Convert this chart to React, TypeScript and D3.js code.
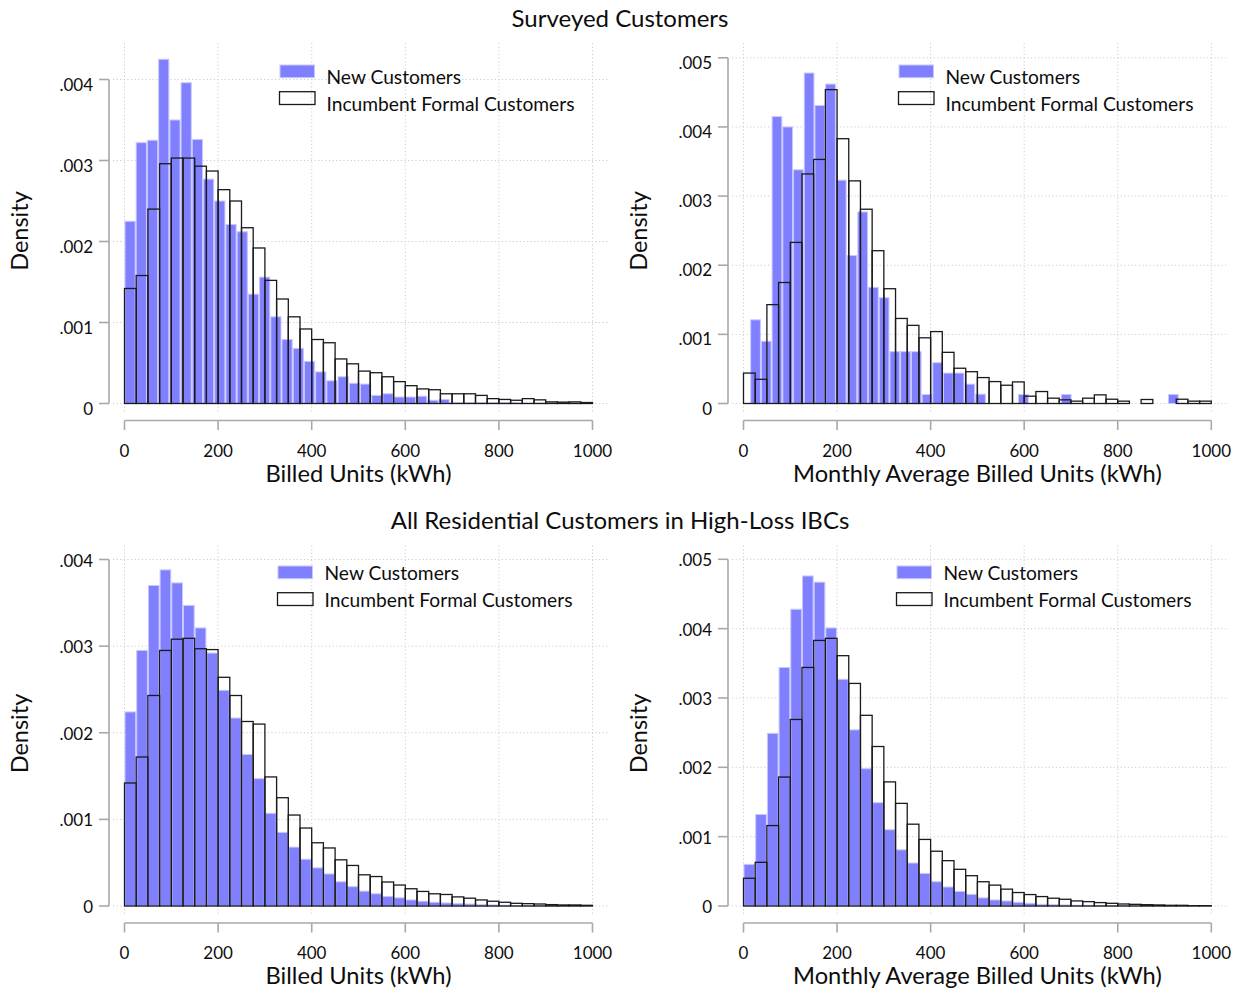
import React from "react";
import * as d3 from "d3";

// Histogram densities, in thousandths (value * 1e-3), one entry per bin
// Surveyed customers, billed units
const surveyedBilledNew = [
  2.25, 3.22, 3.25, 4.25, 3.5, 3.96, 3.26, 2.77, 2.5, 2.21, 2.12, 1.35, 1.56,
  1.07, 0.79, 0.68, 0.52, 0.39, 0.28, 0.33, 0.25, 0.24, 0.1, 0.12, 0.08, 0.08,
  0.09, 0.04, 0.05, 0.01, 0.01, 0.01, 0.01, 0.01, 0.01, 0.005, 0.005, 0.005,
  0.005, 0.005,
];
const surveyedBilledIncumbent = [
  1.42, 1.58, 2.4, 2.96, 3.03, 3.03, 2.93, 2.87, 2.64, 2.5, 2.17, 1.92, 1.52,
  1.29, 1.07, 0.92, 0.79, 0.75, 0.55, 0.49, 0.4, 0.38, 0.33, 0.27, 0.22, 0.18,
  0.17, 0.12, 0.12, 0.12, 0.1, 0.06, 0.05, 0.04, 0.06, 0.045, 0.02, 0.017,
  0.02, 0.012,
];
// Surveyed customers, monthly average billed units
const surveyedMonthlyNew = [
  1.21, 0.9, 4.15, 4.0, 3.38, 4.78, 4.31, 4.62, 3.23, 2.14, 2.77, 1.68, 1.53,
  0.75, 0.75, 0.75, 0.13, 0.59, 0.44, 0.44, 0.28, 0.135, 0, 0, 0, 0.13, 0, 0,
  0, 0.13, 0, 0, 0, 0, 0, 0, 0, 0, 0, 0.13,
];
const surveyedMonthlyIncumbent = [
  0.44, 0.35, 1.43, 1.75, 2.33, 3.32, 3.53, 4.54, 3.83, 3.22, 2.81, 2.21, 1.66,
  1.23, 1.13, 0.95, 1.04, 0.74, 0.51, 0.46, 0.375, 0.317, 0.264, 0.312, 0.106,
  0.173, 0.077, 0.053, 0.034, 0.077, 0.125, 0.062, 0.034, 0, 0.058, 0, 0,
  0.062, 0.034, 0.034,
];
// All residential customers in high-loss IBCs, billed units
const allBilledNew = [
  2.24, 2.95, 3.7, 3.88, 3.73, 3.47, 3.21, 2.92, 2.49, 2.17, 1.75, 1.47, 1.07,
  0.85, 0.68, 0.54, 0.44, 0.37, 0.28, 0.223, 0.172, 0.141, 0.109, 0.094, 0.07,
  0.055, 0.043, 0.035, 0.027, 0.023, 0.016, 0.012, 0.008, 0.006, 0.005, 0.004,
  0.003, 0.003, 0.002, 0.002,
];
const allBilledIncumbent = [
  1.42, 1.72, 2.43, 2.95, 3.08, 3.09, 2.97, 2.96, 2.64, 2.43, 2.13, 2.1, 1.49,
  1.25, 1.05, 0.9, 0.73, 0.67, 0.533, 0.468, 0.36, 0.34, 0.277, 0.242, 0.199,
  0.168, 0.141, 0.133, 0.105, 0.09, 0.07, 0.055, 0.043, 0.031, 0.027, 0.023,
  0.016, 0.012, 0.012, 0.008,
];
// All residential customers in high-loss IBCs, monthly average billed units
const allMonthlyNew = [
  0.6, 1.32, 2.49, 3.44, 4.28, 4.76, 4.67, 4.01, 3.27, 2.54, 1.98, 1.49, 1.1,
  0.81, 0.62, 0.47, 0.35, 0.274, 0.21, 0.168, 0.117, 0.087, 0.073, 0.053,
  0.039, 0.024, 0.019, 0.015, 0.01, 0.008, 0.006, 0.005, 0.004, 0.003, 0.003,
  0.002, 0.002, 0.001, 0.001, 0.001,
];
const allMonthlyIncumbent = [
  0.4, 0.63, 1.16, 1.86, 2.69, 3.44, 3.83, 3.86, 3.61, 3.21, 2.75, 2.3, 1.79,
  1.48, 1.18, 0.96, 0.79, 0.654, 0.529, 0.437, 0.35, 0.301, 0.243, 0.194,
  0.165, 0.136, 0.112, 0.097, 0.073, 0.063, 0.049, 0.039, 0.029, 0.024, 0.019,
  0.015, 0.01, 0.01, 0.005, 0.005,
];

// bin start and width (kWh) of each histogram
const incumbentBins = { start: 0, width: 25 };
const surveyedBilledNewBins = { start: 0, width: 23.96 };
const surveyedMonthlyNewBins = { start: 14.3, width: 22.9 };
const allNewBins = { start: 0, width: 25 };

const xTicks = [0, 200, 400, 600, 800, 1000];
const yTicksLow = [0, 0.001, 0.002, 0.003, 0.004];
const yTicksHigh = [0, 0.001, 0.002, 0.003, 0.004, 0.005];
const seriesLabels = ["New Customers", "Incumbent Formal Customers"];
const rowTitles = [
  "Surveyed Customers",
  "All Residential Customers in High-Loss IBCs",
];
const xTitles = ["Billed Units (kWh)", "Monthly Average Billed Units (kWh)"];
const yTitle = "Density";

const FONT = "Lato, 'Noto Sans', sans-serif";
const BLUE = "#8080ff";
const BLUE_EDGE = "#c8c8ff";
const AXIS = "#a8a8a8";
const GRID = "#cccccc";
const INK = "#0d0d0d";

const fmtY = (v: number) =>
  v === 0 ? "0" : d3.format(".3f")(v).replace(/^0/, "");

interface Bins {
  start: number;
  width: number;
}

interface PanelProps {
  newVals: number[];
  newBins: Bins;
  oldVals: number[];
  oldBins: Bins;
  yTicks: number[];
  xTitle: string;
  left: number;
  right: number;
  base: number;
  top: number;
  regionTop: number;
  axisX: number;
  yLabelDy: number;
  yTitleX: number;
  yTitleY: number;
  legendX: number;
  legendY: number;
  legendTextDy: number;
}

const Panel: React.FC<PanelProps> = (p) => {
  const x = d3.scaleLinear().domain([0, 1000]).range([p.left, p.right]);
  const y = d3
    .scaleLinear()
    .domain([0, p.yTicks[p.yTicks.length - 1]])
    .range([p.base, p.top]);

  const gx0 = p.left - 11.5;
  const gx1 = p.right + 15;
  const gy1 = p.base + 9.5;
  const xAxisY = p.base + 17;

  return (
    <g>
      {/* grid */}
      <g stroke={GRID} strokeWidth={1} strokeDasharray="1.2 2.4">
        {p.yTicks.map((t) => (
          <line key={"h" + t} x1={gx0} x2={gx1} y1={y(t)} y2={y(t)} />
        ))}
        {xTicks.map((t) => (
          <line key={"v" + t} x1={x(t)} x2={x(t)} y1={p.regionTop} y2={gy1} />
        ))}
      </g>

      {/* new customers */}
      <g fill={BLUE} stroke={BLUE_EDGE} strokeWidth={1}>
        {p.newVals.map((v, i) => {
          if (v <= 0) return null;
          const a = x(p.newBins.start + i * p.newBins.width);
          const b = x(p.newBins.start + (i + 1) * p.newBins.width);
          return (
            <rect
              key={i}
              x={a + 0.5}
              width={b - a - 1}
              y={y(v / 1000)}
              height={p.base - y(v / 1000)}
            />
          );
        })}
      </g>

      {/* incumbent customers */}
      <g fill="none" stroke="#1a1a1a" strokeWidth={1.3}>
        {p.oldVals.map((v, i) => {
          if (v <= 0) return null;
          const a = x(p.oldBins.start + i * p.oldBins.width);
          const b = x(p.oldBins.start + (i + 1) * p.oldBins.width);
          return (
            <rect
              key={i}
              x={a}
              width={b - a}
              y={y(v / 1000)}
              height={p.base - y(v / 1000)}
            />
          );
        })}
      </g>

      {/* y axis */}
      <g stroke={AXIS} strokeWidth={1.6} fill="none">
        <line
          x1={p.axisX}
          x2={p.axisX}
          y1={y(p.yTicks[p.yTicks.length - 1])}
          y2={y(0)}
        />
        {p.yTicks.map((t) => (
          <line key={t} x1={p.axisX - 10} x2={p.axisX} y1={y(t)} y2={y(t)} />
        ))}
      </g>
      <g fontFamily={FONT} fontSize={17} fill={INK} textAnchor="end">
        {p.yTicks.map((t) => (
          <text key={t} x={p.axisX - 16} y={y(t) + p.yLabelDy}>
            {fmtY(t)}
          </text>
        ))}
      </g>
      <text
        transform={`translate(${p.yTitleX},${p.yTitleY}) rotate(-90)`}
        textAnchor="middle"
        dominantBaseline="middle"
        fontFamily={FONT}
        fontSize={23.5}
        fill={INK}
      >
        {yTitle}
      </text>

      {/* x axis */}
      <g stroke={AXIS} strokeWidth={1.6} fill="none">
        <line x1={x(0)} x2={x(1000)} y1={xAxisY} y2={xAxisY} />
        {xTicks.map((t) => (
          <line key={t} x1={x(t)} x2={x(t)} y1={xAxisY} y2={xAxisY + 9.5} />
        ))}
      </g>
      <g fontFamily={FONT} fontSize={17} fill={INK} textAnchor="middle">
        {xTicks.map((t) => (
          <text key={t} x={x(t)} y={p.base + 53}>
            {t}
          </text>
        ))}
      </g>
      <text
        x={(x(0) + x(1000)) / 2}
        y={p.base + 78}
        textAnchor="middle"
        fontFamily={FONT}
        fontSize={23.7}
        fill={INK}
      >
        {p.xTitle}
      </text>

      {/* legend */}
      <rect
        x={p.legendX}
        y={p.legendY}
        width={34.5}
        height={12.7}
        fill={BLUE}
        stroke={BLUE_EDGE}
        strokeWidth={1}
      />
      <rect
        x={p.legendX - 0.5}
        y={p.legendY + 26.7}
        width={35.5}
        height={12.8}
        fill="none"
        stroke="#1a1a1a"
        strokeWidth={1.3}
      />
      <g fontFamily={FONT} fontSize={19.2} fill={INK}>
        <text x={p.legendX + 46.5} y={p.legendY + 18.5 + p.legendTextDy}>
          {seriesLabels[0]}
        </text>
        <text x={p.legendX + 46.5} y={p.legendY + 45.5 + p.legendTextDy}>
          {seriesLabels[1]}
        </text>
      </g>
    </g>
  );
};

const App: React.FC = () => {
  const width = 1242;
  const height = 993;
  const rowShift = 502.5;

  const panels: PanelProps[] = [
    {
      newVals: surveyedBilledNew,
      newBins: surveyedBilledNewBins,
      oldVals: surveyedBilledIncumbent,
      oldBins: incumbentBins,
      yTicks: yTicksLow,
      xTitle: xTitles[0],
      left: 124.5,
      right: 592.5,
      base: 403.5,
      top: 79.5,
      regionTop: 43,
      axisX: 109,
      yLabelDy: 11,
      yTitleX: 22,
      yTitleY: 231,
      legendX: 280,
      legendY: 65,
      legendTextDy: 0,
    },
    {
      newVals: surveyedMonthlyNew,
      newBins: surveyedMonthlyNewBins,
      oldVals: surveyedMonthlyIncumbent,
      oldBins: incumbentBins,
      yTicks: yTicksHigh,
      xTitle: xTitles[1],
      left: 743.5,
      right: 1211.3,
      base: 403.5,
      top: 57.8,
      regionTop: 43,
      axisX: 728,
      yLabelDy: 11,
      yTitleX: 641,
      yTitleY: 231,
      legendX: 899,
      legendY: 65,
      legendTextDy: 0,
    },
    {
      newVals: allBilledNew,
      newBins: allNewBins,
      oldVals: allBilledIncumbent,
      oldBins: incumbentBins,
      yTicks: yTicksLow,
      xTitle: xTitles[0],
      left: 124.5,
      right: 592.5,
      base: 403.5 + rowShift,
      top: 559.5,
      regionTop: 43 + rowShift,
      axisX: 109,
      yLabelDy: 7,
      yTitleX: 22,
      yTitleY: 733.5,
      legendX: 278,
      legendY: 566,
      legendTextDy: -4.5,
    },
    {
      newVals: allMonthlyNew,
      newBins: allNewBins,
      oldVals: allMonthlyIncumbent,
      oldBins: incumbentBins,
      yTicks: yTicksHigh,
      xTitle: xTitles[1],
      left: 743.5,
      right: 1211.3,
      base: 403.5 + rowShift,
      top: 559.3,
      regionTop: 43 + rowShift,
      axisX: 728,
      yLabelDy: 7,
      yTitleX: 641,
      yTitleY: 733.5,
      legendX: 897,
      legendY: 566,
      legendTextDy: -4.5,
    },
  ];

  return (
    <svg
      width={width}
      height={height}
      style={{ position: "absolute", left: 0, top: 0, background: "#fff" }}
    >
      <rect width={width} height={height} fill="#fff" />
      <text
        x={620}
        y={26.5}
        textAnchor="middle"
        fontFamily={FONT}
        fontSize={24}
        fill={INK}
      >
        {rowTitles[0]}
      </text>
      <text
        x={620}
        y={529}
        textAnchor="middle"
        fontFamily={FONT}
        fontSize={24}
        fill={INK}
      >
        {rowTitles[1]}
      </text>
      {panels.map((p, i) => (
        <Panel key={i} {...p} />
      ))}
    </svg>
  );
};

export default App;
